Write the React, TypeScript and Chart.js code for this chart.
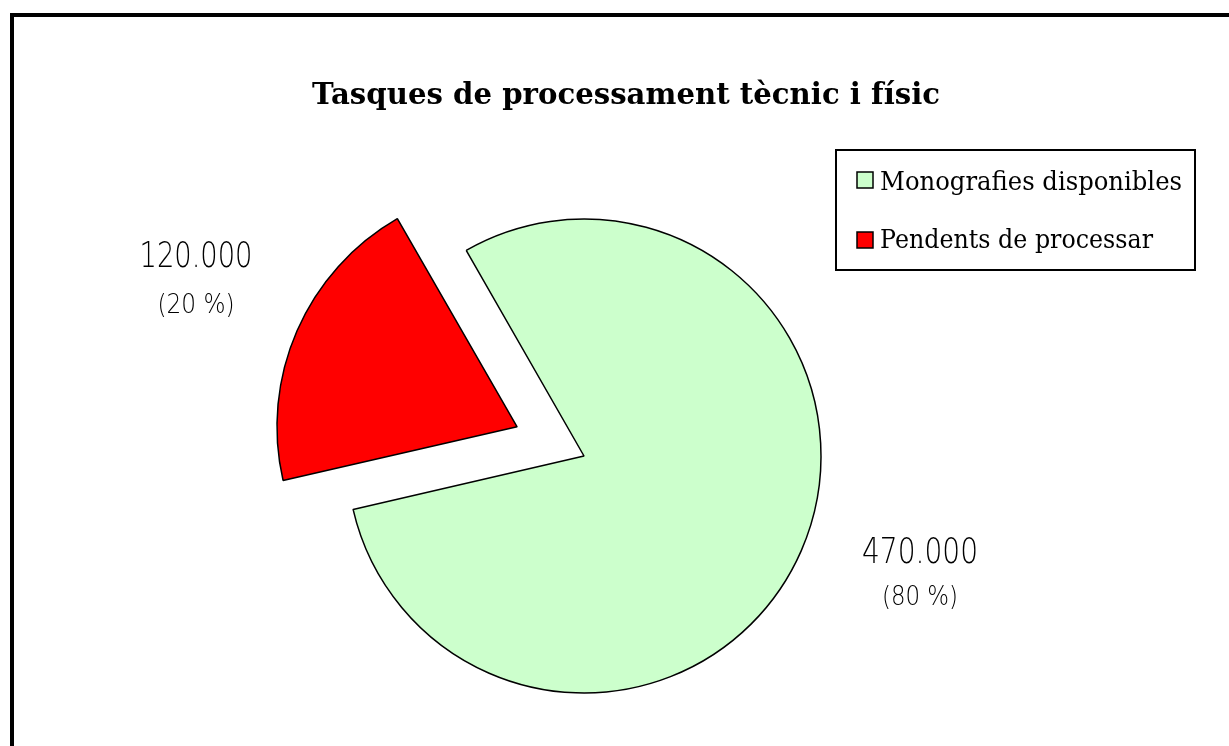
import { useEffect, useRef } from "react";
import { Chart, registerables } from "chart.js";

Chart.register(...registerables);

const titleText = "Tasques de processament tècnic i físic";
const categories = ["Monografies disponibles", "Pendents de processar"];
const values = [470000, 120000];
const sliceColors = ["#CCFFCC", "#FF0000"];
const explodeOffsets = [0, 292];

const fmt = (v: number) => v.toString().replace(/\B(?=(\d{3})+(?!\d))/g, ".");

function drawFit(
  ctx: CanvasRenderingContext2D,
  text: string,
  x: number,
  y: number,
  font: string,
  width: number,
  align: "center" | "left",
  color = "#000"
) {
  ctx.save();
  ctx.font = font;
  const m = ctx.measureText(text).width;
  const s = width / m;
  ctx.translate(x, y);
  ctx.scale(s, 1);
  ctx.textAlign = align;
  ctx.textBaseline = "alphabetic";
  ctx.fillStyle = color;
  ctx.fillText(text, 0, 0);
  ctx.restore();
}

// layout of label blocks: [centerX, valueBaseline, valueWidth, pctBaseline, pctWidth]
const labelLayout = [
  [920, 563, 116, 605, 76],
  [196, 267, 113, 313, 77],
];

const decorPlugin = {
  id: "decor",
  beforeDraw(chart: any) {
    const ctx = chart.ctx as CanvasRenderingContext2D;
    ctx.save();
    ctx.fillStyle = "#fff";
    ctx.fillRect(0, 0, chart.width, chart.height);
    ctx.strokeStyle = "#000";
    ctx.lineWidth = 4;
    ctx.strokeRect(12, 15, 1400, 900);
    ctx.restore();
  },
  afterDraw(chart: any) {
    const ctx = chart.ctx as CanvasRenderingContext2D;
    // title
    drawFit(ctx, titleText, 626, 104, "bold 29px 'DejaVu Serif'", 628, "center");

    // legend
    ctx.save();
    ctx.strokeStyle = "#000";
    ctx.lineWidth = 2;
    ctx.strokeRect(836, 150, 359, 120);
    const ds = chart.data.datasets[0];
    chart.data.labels.forEach((lab: string, i: number) => {
      const y = 172 + i * 60;
      ctx.fillStyle = ds.backgroundColor[i];
      ctx.fillRect(857, y, 16, 16);
      ctx.lineWidth = 1.5;
      ctx.strokeStyle = "#000";
      ctx.strokeRect(857, y, 16, 16);
      const w = i === 0 ? 302 : 273;
      drawFit(ctx, lab, 880, 190 + i * 58, "26px 'DejaVu Serif'", w, "left");
    });
    ctx.restore();

    // data labels
    const data: number[] = ds.data;
    const total = data.reduce((a, b) => a + b, 0);
    data.forEach((v, i) => {
      const [cx, yb, vw, pb, pw] = labelLayout[i];
      drawFit(ctx, fmt(v), cx, yb, "200 35px 'DejaVu Sans', 'Liberation Sans'", vw, "center", "#000");
      const pct = Math.round((v / total) * 100);
      drawFit(ctx, `(${pct} %)`, cx, pb, "200 27px 'DejaVu Sans', 'Liberation Sans'", pw, "center", "#000");
    });
  },
};

export default function App() {
  const ref = useRef<HTMLCanvasElement>(null);
  useEffect(() => {
    if (!ref.current) return;
    const chart = new Chart(ref.current, {
      type: "pie",
      data: {
        labels: categories,
        datasets: [
          {
            data: values,
            backgroundColor: sliceColors,
            borderColor: "#000",
            borderWidth: 1.5,
            offset: explodeOffsets,
            hoverOffset: 0,
          } as any,
        ],
      },
      options: {
        responsive: false,
        animation: false,
        rotation: -29.8,
        radius: 237,
        layout: { padding: { left: 0, right: 61, top: 166, bottom: 0 } },
        plugins: {
          legend: { display: false },
          title: { display: false },
          tooltip: { enabled: false },
        },
        events: [],
      } as any,
      plugins: [decorPlugin],
    });
    return () => chart.destroy();
  }, []);
  return (
    <div style={{ position: "fixed", left: 0, top: 0, width: 1229, height: 746, background: "#fff" }}>
      <canvas ref={ref} width={1229} height={746} style={{ display: "block" }} />
    </div>
  );
}
